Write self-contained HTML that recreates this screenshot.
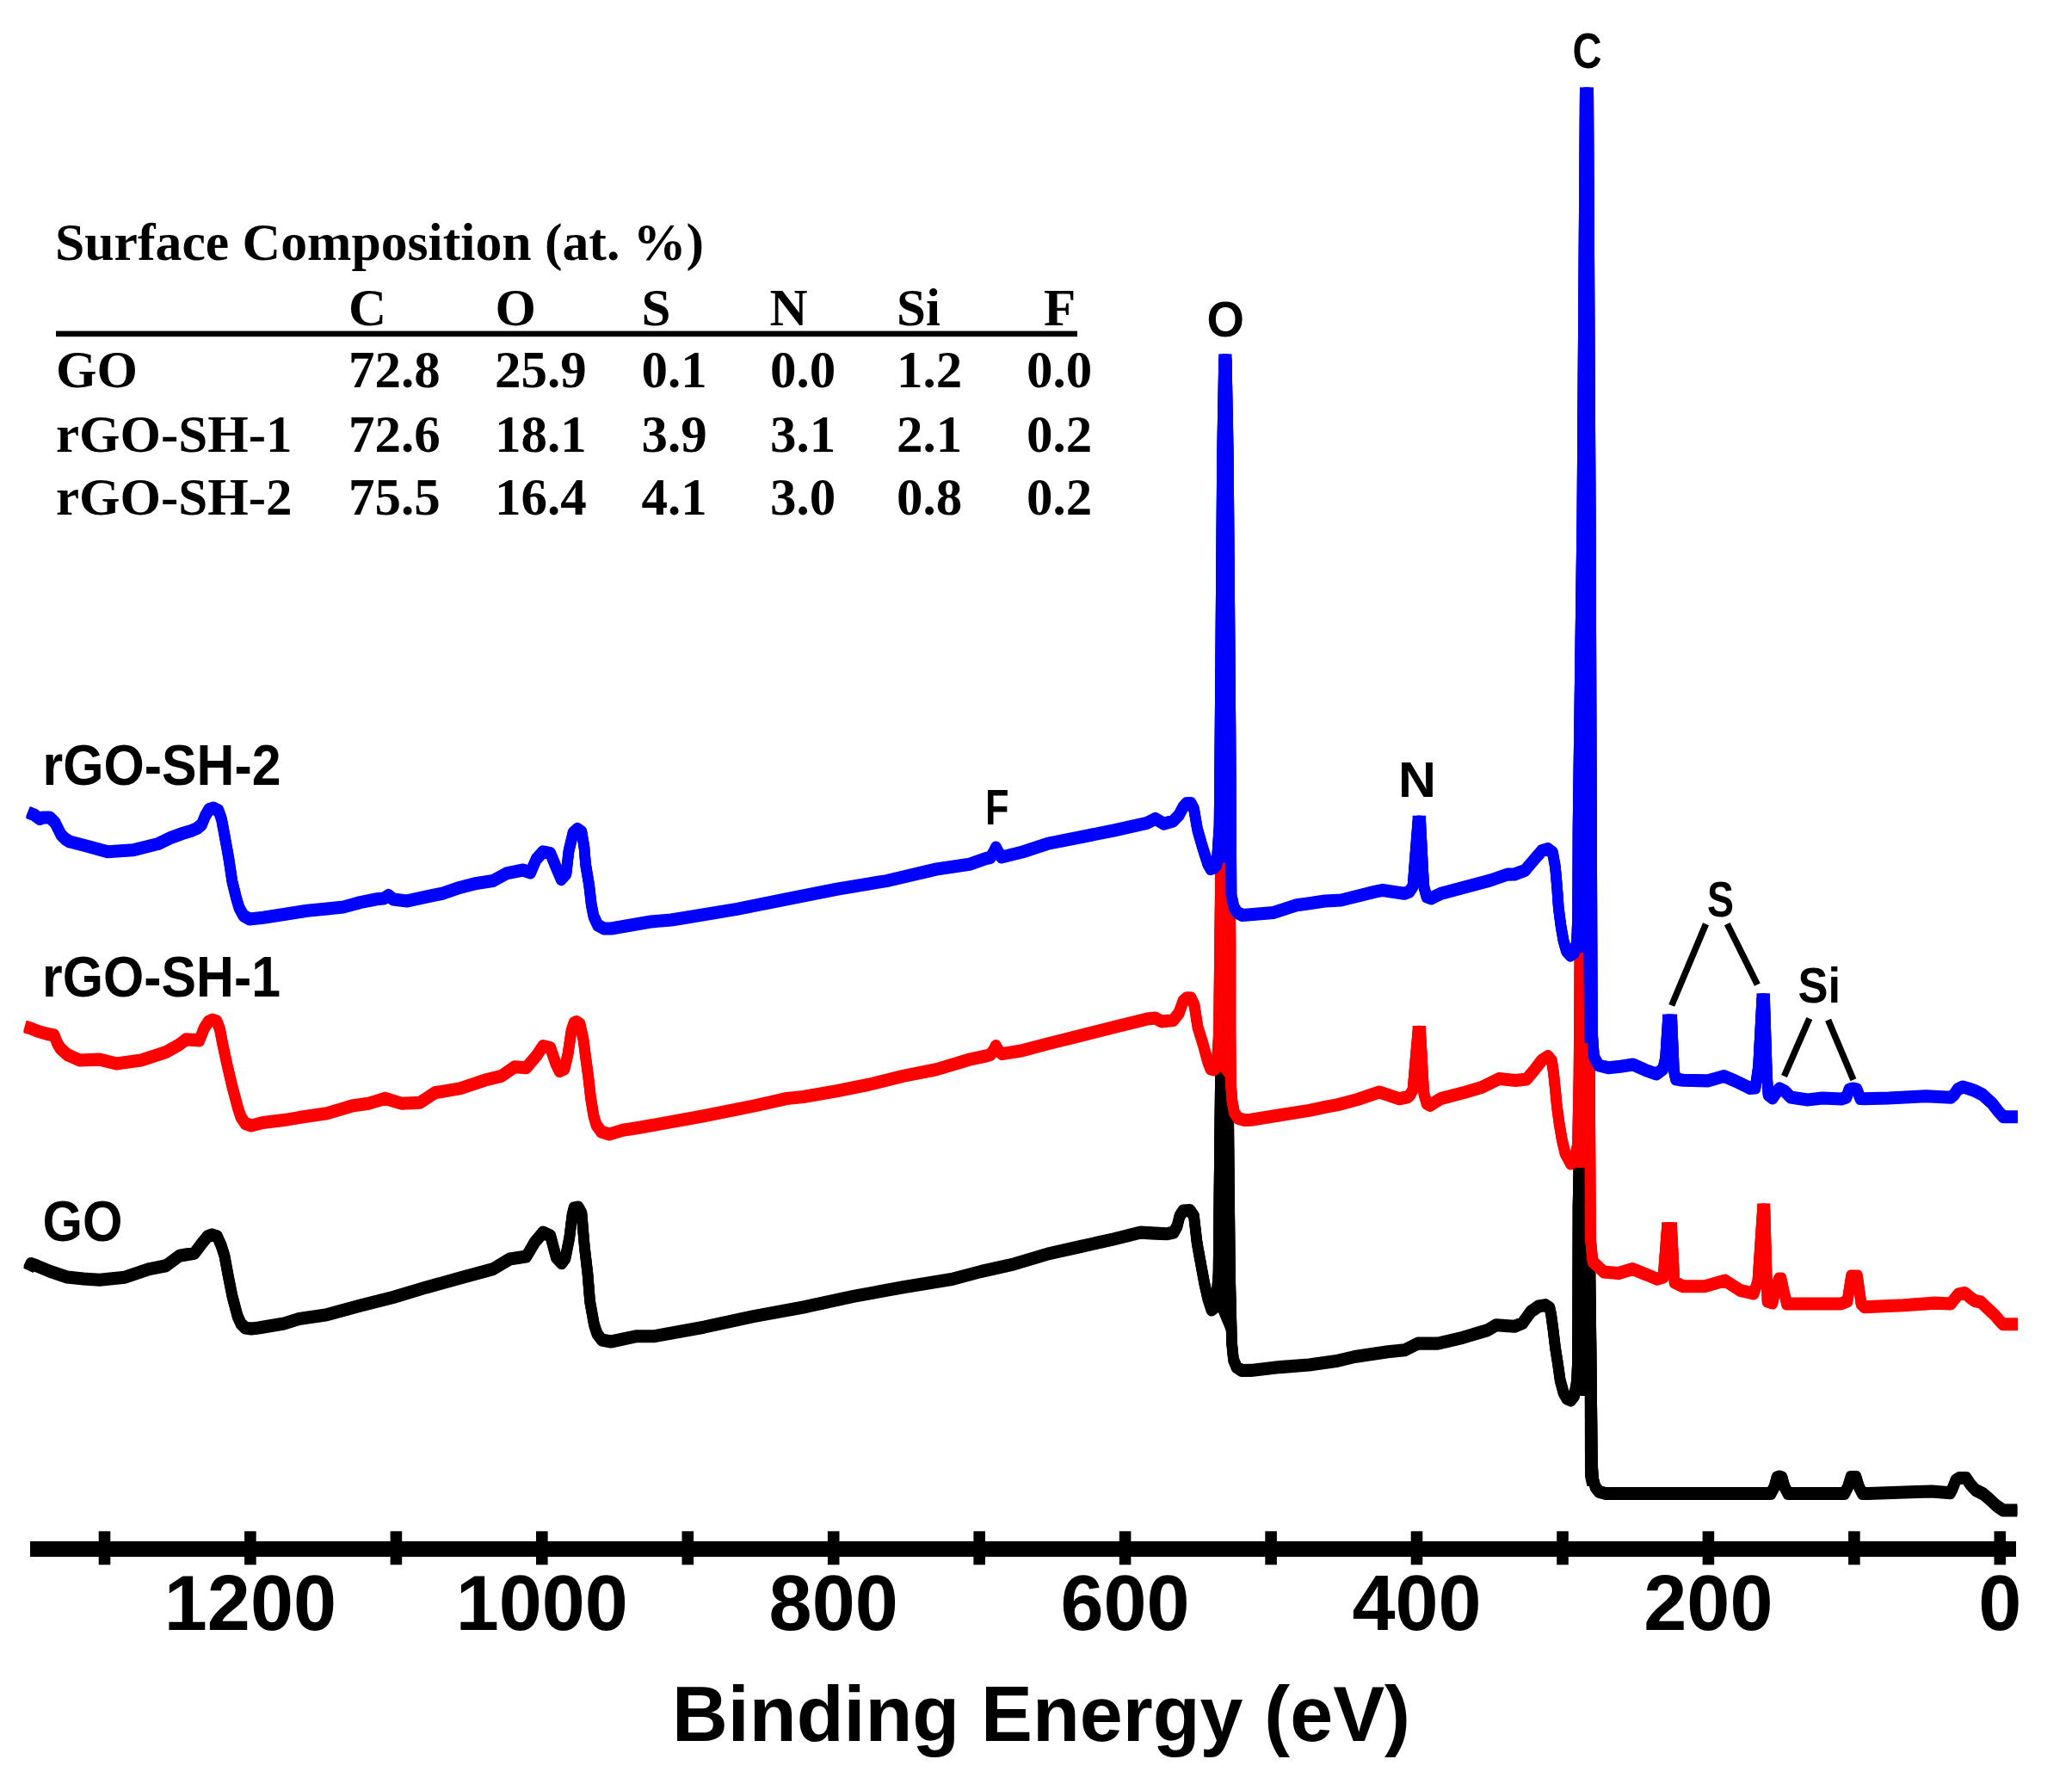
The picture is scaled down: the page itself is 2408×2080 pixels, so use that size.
<!DOCTYPE html>
<html><head><meta charset="utf-8"><title>XPS survey spectra</title>
<style>html,body{margin:0;padding:0;background:#fff;}body{width:2408px;height:2080px;overflow:hidden;}svg{display:block;}.serif{font-family:"Liberation Serif","Times New Roman",serif;font-weight:bold;}.sans{font-family:"Liberation Sans",Arial,sans-serif;font-weight:bold;}</style></head><body>
<svg width="2408" height="2080" viewBox="0 0 2408 2080">
<rect x="0" y="0" width="2408" height="2080" fill="#fff"/>
<g class="serif" font-size="61" fill="#000">
<text x="64" y="302" textLength="754" lengthAdjust="spacingAndGlyphs">Surface Composition (at. %)</text>
<text x="405.0" y="377.5">C</text>
<text x="575.5" y="377.5">O</text>
<text x="745.5" y="377.5">S</text>
<text x="894.5" y="377.5">N</text>
<text x="1042.0" y="377.5">Si</text>
<text x="1213.0" y="377.5">F</text>
<rect x="65" y="384.6" width="1187" height="6.6" fill="#000"/>
<text x="65" y="450.0">GO</text>
<text x="405.0" y="450.0">72.8</text>
<text x="575.0" y="450.0">25.9</text>
<text x="745.5" y="450.0">0.1</text>
<text x="895.0" y="450.0">0.0</text>
<text x="1042.0" y="450.0">1.2</text>
<text x="1193.0" y="450.0">0.0</text>
<text x="65" y="525.0">rGO-SH-1</text>
<text x="405.0" y="525.0">72.6</text>
<text x="575.0" y="525.0">18.1</text>
<text x="745.5" y="525.0">3.9</text>
<text x="895.0" y="525.0">3.1</text>
<text x="1042.0" y="525.0">2.1</text>
<text x="1193.0" y="525.0">0.2</text>
<text x="65" y="597.5">rGO-SH-2</text>
<text x="405.0" y="597.5">75.5</text>
<text x="575.0" y="597.5">16.4</text>
<text x="745.5" y="597.5">4.1</text>
<text x="895.0" y="597.5">3.0</text>
<text x="1042.0" y="597.5">0.8</text>
<text x="1193.0" y="597.5">0.2</text>
</g>
<g fill="none" stroke-width="12.5" stroke-linejoin="round" stroke-linecap="butt">
<g stroke="#000"><path d="M33.0 1475.0L36.0 1468.5L43.0 1471.0L58.6 1477.5L77.9 1484.0L97.0 1486.0L115.8 1487.3L144.8 1484.2L173.7 1474.6L193.0 1470.7L208.5 1459.2L225.9 1456.3L235.5 1443.7L241.0 1437.0L246.4 1434.9L252.5 1437.0L257.0 1447.0L260.9 1459.1L265.2 1482.5L269.9 1506.0L276.1 1529.5L280.0 1538.0L285.0 1543.0L292.0 1544.0L300.4 1543.0L330.0 1538.0L347.5 1532.5L380.0 1527.7L418.6 1517.1L457.2 1507.4L495.8 1495.8L534.4 1485.2L573.0 1474.6L592.4 1463.0L611.7 1460.1L621.3 1443.7L631.0 1432.1L639.7 1436.0L646.4 1461.0L652.7 1467.8L657.0 1462.0L661.8 1438.0L665.0 1412.0L667.0 1404.0L672.0 1403.0L676.0 1410.0L679.3 1448.7L683.0 1480.5L685.6 1512.4L690.4 1538.9L694.0 1550.0L699.4 1557.0L710.0 1559.0L740.0 1552.7L760.0 1552.8L817.9 1542.2L875.8 1529.6L933.7 1519.0L991.7 1506.4L1049.6 1495.8L1107.5 1486.2L1140.0 1477.5L1178.6 1468.8L1217.2 1457.2L1255.8 1448.5L1294.4 1439.8L1325.3 1432.1L1342.7 1433.1L1355.6 1433.8L1364.0 1432.0L1368.0 1425.0L1371.0 1413.0L1375.0 1407.0L1383.0 1406.5L1387.5 1413.0L1391.2 1444.7L1395.5 1468.2L1399.8 1491.6L1404.0 1510.0L1408.0 1522.0L1413.0 1518.0L1416.0 1480.0L1417.5 1330.0L1419.0 1200.0L1421.0 1000.0L1425.0 1000.0L1427.0 1200.0L1428.0 1330.0L1429.5 1480.0L1431.5 1560.0L1433.5 1580.0L1437.0 1588.5L1443.0 1592.5L1453.8 1592.4L1487.6 1588.6L1521.4 1586.0L1555.0 1581.2L1574.4 1576.5L1613.0 1570.7L1632.4 1568.8L1647.8 1561.1L1671.0 1561.1L1700.0 1554.3L1728.9 1545.6L1738.5 1539.8L1760.0 1541.3L1769.5 1537.5L1779.0 1524.2L1788.0 1518.0L1796.1 1516.6L1801.0 1520.0L1802.7 1528.0L1805.0 1545.0L1807.5 1566.0L1810.5 1585.0L1813.2 1604.0L1817.0 1618.0L1821.0 1625.0L1825.5 1627.0L1829.5 1622.0L1832.5 1605.0L1833.5 1580.0L1834.0 1400.0L1836.0 1300.0L1838.0 1200.0L1844.0 1200.0L1847.0 1400.0L1849.0 1560.0L1850.5 1700.0L1851.5 1718.0L1854.0 1728.0L1858.5 1733.5L1866.0 1735.5L1881.3 1735.5L1924.8 1735.5L1982.7 1735.5L2058.0 1735.5L2062.0 1728.0L2065.0 1717.0L2068.0 1716.0L2071.0 1717.0L2074.0 1728.0L2078.0 1735.5L2138.5 1735.5L2143.5 1735.5L2147.5 1728.0L2151.0 1716.5L2157.0 1716.5L2160.5 1728.0L2164.5 1735.5L2171.3 1735.5L2220.5 1733.8L2245.1 1733.0L2266.5 1734.7L2269.0 1730.0L2273.0 1720.0L2277.0 1717.5L2285.0 1717.5L2290.0 1725.0L2296.0 1731.5L2305.0 1736.0L2312.0 1742.0L2320.0 1749.5L2328.0 1755.0L2344.3 1755.0"/><path transform="translate(0,1.30)" d="M33.0 1475.0L36.0 1468.5L43.0 1471.0L58.6 1477.5L77.9 1484.0L97.0 1486.0L115.8 1487.3L144.8 1484.2L173.7 1474.6L193.0 1470.7L208.5 1459.2L225.9 1456.3L235.5 1443.7L241.0 1437.0L246.4 1434.9L252.5 1437.0L257.0 1447.0L260.9 1459.1L265.2 1482.5L269.9 1506.0L276.1 1529.5L280.0 1538.0L285.0 1543.0L292.0 1544.0L300.4 1543.0L330.0 1538.0L347.5 1532.5L380.0 1527.7L418.6 1517.1L457.2 1507.4L495.8 1495.8L534.4 1485.2L573.0 1474.6L592.4 1463.0L611.7 1460.1L621.3 1443.7L631.0 1432.1L639.7 1436.0L646.4 1461.0L652.7 1467.8L657.0 1462.0L661.8 1438.0L665.0 1412.0L667.0 1404.0L672.0 1403.0L676.0 1410.0L679.3 1448.7L683.0 1480.5L685.6 1512.4L690.4 1538.9L694.0 1550.0L699.4 1557.0L710.0 1559.0L740.0 1552.7L760.0 1552.8L817.9 1542.2L875.8 1529.6L933.7 1519.0L991.7 1506.4L1049.6 1495.8L1107.5 1486.2L1140.0 1477.5L1178.6 1468.8L1217.2 1457.2L1255.8 1448.5L1294.4 1439.8L1325.3 1432.1L1342.7 1433.1L1355.6 1433.8L1364.0 1432.0L1368.0 1425.0L1371.0 1413.0L1375.0 1407.0L1383.0 1406.5L1387.5 1413.0L1391.2 1444.7L1395.5 1468.2L1399.8 1491.6L1404.0 1510.0L1408.0 1522.0L1413.0 1518.0L1416.0 1480.0L1417.5 1330.0L1419.0 1200.0L1421.0 1000.0L1425.0 1000.0L1427.0 1200.0L1428.0 1330.0L1429.5 1480.0L1431.5 1560.0L1433.5 1580.0L1437.0 1588.5L1443.0 1592.5L1453.8 1592.4L1487.6 1588.6L1521.4 1586.0L1555.0 1581.2L1574.4 1576.5L1613.0 1570.7L1632.4 1568.8L1647.8 1561.1L1671.0 1561.1L1700.0 1554.3L1728.9 1545.6L1738.5 1539.8L1760.0 1541.3L1769.5 1537.5L1779.0 1524.2L1788.0 1518.0L1796.1 1516.6L1801.0 1520.0L1802.7 1528.0L1805.0 1545.0L1807.5 1566.0L1810.5 1585.0L1813.2 1604.0L1817.0 1618.0L1821.0 1625.0L1825.5 1627.0L1829.5 1622.0L1832.5 1605.0L1833.5 1580.0L1834.0 1400.0L1836.0 1300.0L1838.0 1200.0L1844.0 1200.0L1847.0 1400.0L1849.0 1560.0L1850.5 1700.0L1851.5 1718.0L1854.0 1728.0L1858.5 1733.5L1866.0 1735.5L1881.3 1735.5L1924.8 1735.5L1982.7 1735.5L2058.0 1735.5L2062.0 1728.0L2065.0 1717.0L2068.0 1716.0L2071.0 1717.0L2074.0 1728.0L2078.0 1735.5L2138.5 1735.5L2143.5 1735.5L2147.5 1728.0L2151.0 1716.5L2157.0 1716.5L2160.5 1728.0L2164.5 1735.5L2171.3 1735.5L2220.5 1733.8L2245.1 1733.0L2266.5 1734.7L2269.0 1730.0L2273.0 1720.0L2277.0 1717.5L2285.0 1717.5L2290.0 1725.0L2296.0 1731.5L2305.0 1736.0L2312.0 1742.0L2320.0 1749.5L2328.0 1755.0L2344.3 1755.0"/><path transform="translate(0,-1.30)" d="M33.0 1475.0L36.0 1468.5L43.0 1471.0L58.6 1477.5L77.9 1484.0L97.0 1486.0L115.8 1487.3L144.8 1484.2L173.7 1474.6L193.0 1470.7L208.5 1459.2L225.9 1456.3L235.5 1443.7L241.0 1437.0L246.4 1434.9L252.5 1437.0L257.0 1447.0L260.9 1459.1L265.2 1482.5L269.9 1506.0L276.1 1529.5L280.0 1538.0L285.0 1543.0L292.0 1544.0L300.4 1543.0L330.0 1538.0L347.5 1532.5L380.0 1527.7L418.6 1517.1L457.2 1507.4L495.8 1495.8L534.4 1485.2L573.0 1474.6L592.4 1463.0L611.7 1460.1L621.3 1443.7L631.0 1432.1L639.7 1436.0L646.4 1461.0L652.7 1467.8L657.0 1462.0L661.8 1438.0L665.0 1412.0L667.0 1404.0L672.0 1403.0L676.0 1410.0L679.3 1448.7L683.0 1480.5L685.6 1512.4L690.4 1538.9L694.0 1550.0L699.4 1557.0L710.0 1559.0L740.0 1552.7L760.0 1552.8L817.9 1542.2L875.8 1529.6L933.7 1519.0L991.7 1506.4L1049.6 1495.8L1107.5 1486.2L1140.0 1477.5L1178.6 1468.8L1217.2 1457.2L1255.8 1448.5L1294.4 1439.8L1325.3 1432.1L1342.7 1433.1L1355.6 1433.8L1364.0 1432.0L1368.0 1425.0L1371.0 1413.0L1375.0 1407.0L1383.0 1406.5L1387.5 1413.0L1391.2 1444.7L1395.5 1468.2L1399.8 1491.6L1404.0 1510.0L1408.0 1522.0L1413.0 1518.0L1416.0 1480.0L1417.5 1330.0L1419.0 1200.0L1421.0 1000.0L1425.0 1000.0L1427.0 1200.0L1428.0 1330.0L1429.5 1480.0L1431.5 1560.0L1433.5 1580.0L1437.0 1588.5L1443.0 1592.5L1453.8 1592.4L1487.6 1588.6L1521.4 1586.0L1555.0 1581.2L1574.4 1576.5L1613.0 1570.7L1632.4 1568.8L1647.8 1561.1L1671.0 1561.1L1700.0 1554.3L1728.9 1545.6L1738.5 1539.8L1760.0 1541.3L1769.5 1537.5L1779.0 1524.2L1788.0 1518.0L1796.1 1516.6L1801.0 1520.0L1802.7 1528.0L1805.0 1545.0L1807.5 1566.0L1810.5 1585.0L1813.2 1604.0L1817.0 1618.0L1821.0 1625.0L1825.5 1627.0L1829.5 1622.0L1832.5 1605.0L1833.5 1580.0L1834.0 1400.0L1836.0 1300.0L1838.0 1200.0L1844.0 1200.0L1847.0 1400.0L1849.0 1560.0L1850.5 1700.0L1851.5 1718.0L1854.0 1728.0L1858.5 1733.5L1866.0 1735.5L1881.3 1735.5L1924.8 1735.5L1982.7 1735.5L2058.0 1735.5L2062.0 1728.0L2065.0 1717.0L2068.0 1716.0L2071.0 1717.0L2074.0 1728.0L2078.0 1735.5L2138.5 1735.5L2143.5 1735.5L2147.5 1728.0L2151.0 1716.5L2157.0 1716.5L2160.5 1728.0L2164.5 1735.5L2171.3 1735.5L2220.5 1733.8L2245.1 1733.0L2266.5 1734.7L2269.0 1730.0L2273.0 1720.0L2277.0 1717.5L2285.0 1717.5L2290.0 1725.0L2296.0 1731.5L2305.0 1736.0L2312.0 1742.0L2320.0 1749.5L2328.0 1755.0L2344.3 1755.0"/></g>
<path stroke="none" fill="#000" d="M1413.0 1518.0L1416.0 1480.0L1417.5 1330.0L1419.0 1200.0L1421.0 1000.0L1425.0 1000.0L1427.0 1200.0L1428.0 1330.0L1429.0 1480.0L1430.5 1560.0Z"/>
<path stroke="none" fill="#000" d="M1829.5 1622.0L1832.5 1605.0L1833.5 1580.0L1834.0 1400.0L1836.0 1300.0L1838.0 1200.0L1844.0 1200.0L1847.0 1400.0L1848.0 1622.0Z"/>
<path stroke="none" fill="#000" d="M1841.5 1560.0L1842.0 1716.0L1844.5 1727.0L1850.0 1727.0L1849.0 1560.0Z"/>
<g stroke="#f00"><path d="M29.0 1193.0L36.0 1195.0L43.0 1198.0L55.0 1201.5L63.0 1203.0L66.5 1212.0L70.0 1218.0L78.0 1225.4L92.7 1232.0L115.8 1231.1L135.1 1235.9L164.1 1232.0L193.0 1222.4L208.5 1213.7L216.2 1207.9L231.7 1208.9L237.5 1194.4L242.0 1187.5L246.8 1185.1L252.0 1187.0L255.5 1196.0L258.5 1211.9L263.9 1237.0L269.8 1262.2L276.5 1287.4L280.0 1298.0L285.0 1305.5L292.0 1308.0L305.4 1304.5L330.0 1301.6L347.5 1298.6L380.0 1293.8L409.0 1285.1L428.3 1282.2L447.6 1276.4L466.9 1282.2L488.1 1281.3L505.5 1269.7L534.4 1264.9L563.4 1255.2L582.7 1250.4L598.1 1239.8L611.7 1240.7L623.2 1227.2L631.0 1215.6L639.7 1217.6L646.0 1236.0L650.3 1244.6L656.0 1242.0L660.0 1225.0L664.0 1198.0L667.0 1189.0L670.0 1187.5L674.0 1190.0L678.0 1208.0L680.2 1225.3L683.6 1250.4L686.5 1275.6L689.9 1296.5L693.0 1307.0L698.7 1315.0L708.0 1318.0L723.8 1313.3L740.0 1310.8L760.0 1307.3L817.9 1296.7L875.8 1285.1L914.4 1276.5L933.7 1274.5L972.4 1267.8L1011.0 1260.0L1049.6 1250.4L1088.2 1242.7L1126.8 1231.1L1146.0 1227.0L1151.0 1225.5L1154.5 1221.0L1157.4 1215.5L1160.5 1221.0L1164.5 1224.6L1188.3 1220.7L1217.2 1213.0L1255.8 1203.4L1294.4 1193.7L1333.0 1184.1L1342.7 1183.1L1350.0 1187.0L1363.5 1185.6L1370.2 1177.0L1375.0 1163.5L1379.0 1159.8L1384.0 1159.8L1388.0 1168.0L1392.0 1193.7L1398.3 1213.8L1403.7 1233.9L1407.0 1242.0L1410.5 1243.0L1414.0 1240.0L1416.5 1200.0L1417.5 1100.0L1420.0 900.0L1423.0 700.0L1427.0 700.0L1429.0 900.0L1430.0 1100.0L1430.0 1200.0L1430.5 1260.0L1432.0 1280.0L1434.5 1293.0L1439.0 1299.5L1446.0 1301.5L1453.8 1301.2L1487.6 1295.8L1521.4 1290.4L1540.0 1286.4L1555.0 1283.6L1577.9 1277.5L1603.0 1269.0L1626.2 1276.7L1635.8 1274.8L1639.0 1272.0L1642.0 1266.0L1647.8 1199.2L1650.8 1199.2L1654.7 1270.0L1658.0 1282.0L1662.0 1284.4L1674.4 1276.7L1703.4 1269.0L1722.7 1263.2L1742.0 1253.6L1761.3 1255.5L1774.2 1254.0L1783.7 1242.7L1792.0 1232.0L1799.0 1227.5L1803.5 1233.0L1805.6 1247.5L1807.5 1266.0L1809.4 1285.5L1812.0 1305.0L1815.1 1323.5L1819.0 1340.0L1825.5 1352.0L1830.0 1348.0L1833.5 1330.0L1835.0 1250.0L1836.0 1100.0L1839.0 700.0L1844.0 700.0L1846.0 1000.0L1847.5 1250.0L1848.5 1440.0L1851.0 1466.0L1863.8 1478.0L1880.6 1479.6L1897.3 1474.6L1914.1 1481.3L1925.8 1486.3L1933.0 1484.0L1937.3 1427.5L1942.8 1427.5L1946.0 1490.0L1956.0 1494.7L1981.1 1494.7L2004.6 1488.0L2023.0 1499.7L2038.1 1503.0L2042.8 1489.5L2048.4 1405.7L2051.0 1405.7L2054.0 1512.0L2060.0 1514.0L2064.0 1495.0L2067.5 1486.0L2070.0 1486.0L2073.0 1500.0L2076.5 1515.0L2103.0 1515.0L2139.5 1515.0L2147.0 1512.0L2151.5 1483.0L2158.5 1483.0L2163.0 1515.0L2166.8 1518.7L2212.4 1516.8L2248.9 1514.1L2267.2 1515.0L2271.0 1510.0L2276.0 1504.0L2283.6 1502.5L2290.0 1508.0L2295.0 1511.5L2302.0 1513.0L2310.0 1520.5L2318.0 1528.0L2324.0 1535.0L2328.0 1538.8L2344.8 1538.8"/><path transform="translate(0,1.30)" d="M29.0 1193.0L36.0 1195.0L43.0 1198.0L55.0 1201.5L63.0 1203.0L66.5 1212.0L70.0 1218.0L78.0 1225.4L92.7 1232.0L115.8 1231.1L135.1 1235.9L164.1 1232.0L193.0 1222.4L208.5 1213.7L216.2 1207.9L231.7 1208.9L237.5 1194.4L242.0 1187.5L246.8 1185.1L252.0 1187.0L255.5 1196.0L258.5 1211.9L263.9 1237.0L269.8 1262.2L276.5 1287.4L280.0 1298.0L285.0 1305.5L292.0 1308.0L305.4 1304.5L330.0 1301.6L347.5 1298.6L380.0 1293.8L409.0 1285.1L428.3 1282.2L447.6 1276.4L466.9 1282.2L488.1 1281.3L505.5 1269.7L534.4 1264.9L563.4 1255.2L582.7 1250.4L598.1 1239.8L611.7 1240.7L623.2 1227.2L631.0 1215.6L639.7 1217.6L646.0 1236.0L650.3 1244.6L656.0 1242.0L660.0 1225.0L664.0 1198.0L667.0 1189.0L670.0 1187.5L674.0 1190.0L678.0 1208.0L680.2 1225.3L683.6 1250.4L686.5 1275.6L689.9 1296.5L693.0 1307.0L698.7 1315.0L708.0 1318.0L723.8 1313.3L740.0 1310.8L760.0 1307.3L817.9 1296.7L875.8 1285.1L914.4 1276.5L933.7 1274.5L972.4 1267.8L1011.0 1260.0L1049.6 1250.4L1088.2 1242.7L1126.8 1231.1L1146.0 1227.0L1151.0 1225.5L1154.5 1221.0L1157.4 1215.5L1160.5 1221.0L1164.5 1224.6L1188.3 1220.7L1217.2 1213.0L1255.8 1203.4L1294.4 1193.7L1333.0 1184.1L1342.7 1183.1L1350.0 1187.0L1363.5 1185.6L1370.2 1177.0L1375.0 1163.5L1379.0 1159.8L1384.0 1159.8L1388.0 1168.0L1392.0 1193.7L1398.3 1213.8L1403.7 1233.9L1407.0 1242.0L1410.5 1243.0L1414.0 1240.0L1416.5 1200.0L1417.5 1100.0L1420.0 900.0L1423.0 700.0L1427.0 700.0L1429.0 900.0L1430.0 1100.0L1430.0 1200.0L1430.5 1260.0L1432.0 1280.0L1434.5 1293.0L1439.0 1299.5L1446.0 1301.5L1453.8 1301.2L1487.6 1295.8L1521.4 1290.4L1540.0 1286.4L1555.0 1283.6L1577.9 1277.5L1603.0 1269.0L1626.2 1276.7L1635.8 1274.8L1639.0 1272.0L1642.0 1266.0L1647.8 1199.2L1650.8 1199.2L1654.7 1270.0L1658.0 1282.0L1662.0 1284.4L1674.4 1276.7L1703.4 1269.0L1722.7 1263.2L1742.0 1253.6L1761.3 1255.5L1774.2 1254.0L1783.7 1242.7L1792.0 1232.0L1799.0 1227.5L1803.5 1233.0L1805.6 1247.5L1807.5 1266.0L1809.4 1285.5L1812.0 1305.0L1815.1 1323.5L1819.0 1340.0L1825.5 1352.0L1830.0 1348.0L1833.5 1330.0L1835.0 1250.0L1836.0 1100.0L1839.0 700.0L1844.0 700.0L1846.0 1000.0L1847.5 1250.0L1848.5 1440.0L1851.0 1466.0L1863.8 1478.0L1880.6 1479.6L1897.3 1474.6L1914.1 1481.3L1925.8 1486.3L1933.0 1484.0L1937.3 1427.5L1942.8 1427.5L1946.0 1490.0L1956.0 1494.7L1981.1 1494.7L2004.6 1488.0L2023.0 1499.7L2038.1 1503.0L2042.8 1489.5L2048.4 1405.7L2051.0 1405.7L2054.0 1512.0L2060.0 1514.0L2064.0 1495.0L2067.5 1486.0L2070.0 1486.0L2073.0 1500.0L2076.5 1515.0L2103.0 1515.0L2139.5 1515.0L2147.0 1512.0L2151.5 1483.0L2158.5 1483.0L2163.0 1515.0L2166.8 1518.7L2212.4 1516.8L2248.9 1514.1L2267.2 1515.0L2271.0 1510.0L2276.0 1504.0L2283.6 1502.5L2290.0 1508.0L2295.0 1511.5L2302.0 1513.0L2310.0 1520.5L2318.0 1528.0L2324.0 1535.0L2328.0 1538.8L2344.8 1538.8"/><path transform="translate(0,-1.30)" d="M29.0 1193.0L36.0 1195.0L43.0 1198.0L55.0 1201.5L63.0 1203.0L66.5 1212.0L70.0 1218.0L78.0 1225.4L92.7 1232.0L115.8 1231.1L135.1 1235.9L164.1 1232.0L193.0 1222.4L208.5 1213.7L216.2 1207.9L231.7 1208.9L237.5 1194.4L242.0 1187.5L246.8 1185.1L252.0 1187.0L255.5 1196.0L258.5 1211.9L263.9 1237.0L269.8 1262.2L276.5 1287.4L280.0 1298.0L285.0 1305.5L292.0 1308.0L305.4 1304.5L330.0 1301.6L347.5 1298.6L380.0 1293.8L409.0 1285.1L428.3 1282.2L447.6 1276.4L466.9 1282.2L488.1 1281.3L505.5 1269.7L534.4 1264.9L563.4 1255.2L582.7 1250.4L598.1 1239.8L611.7 1240.7L623.2 1227.2L631.0 1215.6L639.7 1217.6L646.0 1236.0L650.3 1244.6L656.0 1242.0L660.0 1225.0L664.0 1198.0L667.0 1189.0L670.0 1187.5L674.0 1190.0L678.0 1208.0L680.2 1225.3L683.6 1250.4L686.5 1275.6L689.9 1296.5L693.0 1307.0L698.7 1315.0L708.0 1318.0L723.8 1313.3L740.0 1310.8L760.0 1307.3L817.9 1296.7L875.8 1285.1L914.4 1276.5L933.7 1274.5L972.4 1267.8L1011.0 1260.0L1049.6 1250.4L1088.2 1242.7L1126.8 1231.1L1146.0 1227.0L1151.0 1225.5L1154.5 1221.0L1157.4 1215.5L1160.5 1221.0L1164.5 1224.6L1188.3 1220.7L1217.2 1213.0L1255.8 1203.4L1294.4 1193.7L1333.0 1184.1L1342.7 1183.1L1350.0 1187.0L1363.5 1185.6L1370.2 1177.0L1375.0 1163.5L1379.0 1159.8L1384.0 1159.8L1388.0 1168.0L1392.0 1193.7L1398.3 1213.8L1403.7 1233.9L1407.0 1242.0L1410.5 1243.0L1414.0 1240.0L1416.5 1200.0L1417.5 1100.0L1420.0 900.0L1423.0 700.0L1427.0 700.0L1429.0 900.0L1430.0 1100.0L1430.0 1200.0L1430.5 1260.0L1432.0 1280.0L1434.5 1293.0L1439.0 1299.5L1446.0 1301.5L1453.8 1301.2L1487.6 1295.8L1521.4 1290.4L1540.0 1286.4L1555.0 1283.6L1577.9 1277.5L1603.0 1269.0L1626.2 1276.7L1635.8 1274.8L1639.0 1272.0L1642.0 1266.0L1647.8 1199.2L1650.8 1199.2L1654.7 1270.0L1658.0 1282.0L1662.0 1284.4L1674.4 1276.7L1703.4 1269.0L1722.7 1263.2L1742.0 1253.6L1761.3 1255.5L1774.2 1254.0L1783.7 1242.7L1792.0 1232.0L1799.0 1227.5L1803.5 1233.0L1805.6 1247.5L1807.5 1266.0L1809.4 1285.5L1812.0 1305.0L1815.1 1323.5L1819.0 1340.0L1825.5 1352.0L1830.0 1348.0L1833.5 1330.0L1835.0 1250.0L1836.0 1100.0L1839.0 700.0L1844.0 700.0L1846.0 1000.0L1847.5 1250.0L1848.5 1440.0L1851.0 1466.0L1863.8 1478.0L1880.6 1479.6L1897.3 1474.6L1914.1 1481.3L1925.8 1486.3L1933.0 1484.0L1937.3 1427.5L1942.8 1427.5L1946.0 1490.0L1956.0 1494.7L1981.1 1494.7L2004.6 1488.0L2023.0 1499.7L2038.1 1503.0L2042.8 1489.5L2048.4 1405.7L2051.0 1405.7L2054.0 1512.0L2060.0 1514.0L2064.0 1495.0L2067.5 1486.0L2070.0 1486.0L2073.0 1500.0L2076.5 1515.0L2103.0 1515.0L2139.5 1515.0L2147.0 1512.0L2151.5 1483.0L2158.5 1483.0L2163.0 1515.0L2166.8 1518.7L2212.4 1516.8L2248.9 1514.1L2267.2 1515.0L2271.0 1510.0L2276.0 1504.0L2283.6 1502.5L2290.0 1508.0L2295.0 1511.5L2302.0 1513.0L2310.0 1520.5L2318.0 1528.0L2324.0 1535.0L2328.0 1538.8L2344.8 1538.8"/></g>
<path stroke="none" fill="#f00" d="M1414.0 1240.0L1416.5 1200.0L1417.5 1100.0L1420.0 900.0L1423.0 700.0L1427.0 700.0L1429.0 900.0L1430.0 1100.0L1430.0 1200.0L1430.5 1260.0Z"/>
<path stroke="none" fill="#f00" d="M1827.0 1357.0L1830.0 1348.0L1833.5 1330.0L1835.0 1250.0L1836.0 1100.0L1839.0 700.0L1844.0 700.0L1846.0 1000.0L1847.5 1250.0L1848.0 1357.0Z"/>
<path stroke="none" fill="#f00" d="M1642.0 1266.0L1647.8 1199.2L1650.8 1199.2L1654.7 1270.0Z"/>
<rect stroke="none" fill="#f00" x="1641.60" y="1191.95" width="15.50" height="10.55"/>
<rect stroke="none" fill="#f00" x="1931.05" y="1420.25" width="18.00" height="10.55"/>
<rect stroke="none" fill="#f00" x="2042.15" y="1398.45" width="15.10" height="10.55"/>
<g stroke="#00f"><path d="M32.5 944.0L40.0 947.0L46.0 951.5L50.0 950.0L58.0 950.0L64.0 956.0L68.0 964.0L71.0 970.0L76.0 975.0L81.0 978.0L100.4 983.0L125.5 989.8L154.4 987.8L183.8 980.5L198.3 973.5L212.7 968.3L222.0 965.5L229.0 962.5L234.5 958.0L238.5 948.0L243.0 940.5L248.0 939.0L254.0 942.0L257.5 952.0L260.4 967.5L265.6 996.0L269.9 1024.5L274.6 1043.5L278.0 1055.0L283.0 1064.0L290.0 1068.0L306.0 1066.2L330.0 1062.5L357.0 1058.3L380.0 1056.0L399.0 1054.0L418.6 1048.6L437.9 1044.8L446.0 1044.0L451.4 1040.5L457.0 1045.0L472.7 1047.0L495.8 1042.0L515.0 1038.0L534.4 1031.3L553.7 1026.4L573.0 1023.6L588.5 1014.9L607.8 1011.0L616.5 1013.9L623.2 998.5L631.0 989.8L639.7 991.7L646.4 1008.0L652.2 1021.6L658.0 1015.0L661.0 989.0L666.0 968.0L671.0 963.5L676.0 967.0L679.0 985.0L680.6 1004.7L684.6 1028.2L687.3 1051.6L690.0 1065.0L694.7 1075.0L702.0 1079.0L710.4 1079.0L727.5 1076.0L756.4 1071.0L780.0 1069.0L798.6 1066.0L856.5 1056.4L914.4 1044.8L972.4 1033.2L1030.3 1023.6L1088.2 1010.0L1126.8 1004.2L1146.0 997.5L1151.0 996.5L1154.5 991.0L1157.4 985.0L1160.5 991.0L1164.0 996.0L1188.3 990.0L1217.2 980.4L1255.8 972.7L1294.4 965.0L1333.0 956.3L1342.7 951.4L1352.4 957.2L1363.5 954.0L1370.2 947.0L1375.0 938.0L1379.0 933.5L1384.0 933.5L1387.5 940.0L1391.6 963.7L1397.3 983.8L1403.7 1003.9L1407.0 1009.5L1410.5 1008.5L1414.0 1005.0L1417.0 960.0L1418.0 850.0L1420.5 530.0L1422.5 418.6L1425.3 418.6L1427.4 530.0L1430.0 850.0L1431.0 1040.0L1434.0 1054.0L1438.0 1060.5L1444.0 1063.5L1468.2 1061.5L1480.0 1060.4L1506.8 1051.8L1520.0 1050.0L1540.0 1047.0L1558.6 1046.0L1597.2 1036.4L1606.9 1034.4L1632.0 1038.3L1638.0 1036.0L1642.0 1030.0L1647.8 955.0L1650.8 955.0L1654.7 1030.0L1658.0 1042.0L1663.0 1044.0L1674.4 1038.3L1703.4 1030.6L1732.4 1022.9L1751.7 1016.1L1760.0 1016.0L1772.3 1011.3L1783.7 998.0L1792.0 988.5L1799.0 986.6L1804.5 991.0L1807.5 1007.5L1809.5 1030.0L1811.3 1055.0L1814.0 1076.0L1817.0 1093.0L1820.5 1105.0L1825.0 1110.0L1829.5 1107.0L1832.5 1095.0L1833.6 1064.0L1834.0 960.0L1838.8 600.0L1842.2 108.7L1845.8 108.7L1848.3 600.0L1850.0 1080.0L1850.5 1200.0L1852.5 1228.0L1858.0 1238.0L1869.0 1240.7L1883.4 1239.3L1897.9 1237.1L1912.4 1243.6L1925.1 1248.0L1932.7 1242.2L1935.5 1230.0L1938.3 1185.8L1942.9 1185.8L1945.5 1245.0L1947.5 1253.7L1955.8 1255.2L1984.8 1255.9L2003.6 1250.5L2017.3 1256.4L2034.0 1264.5L2040.0 1264.0L2043.5 1240.0L2047.7 1161.5L2050.7 1161.5L2053.5 1250.0L2055.0 1272.0L2060.0 1276.0L2064.0 1270.0L2068.0 1265.0L2074.3 1268.1L2081.0 1275.0L2100.6 1278.0L2117.9 1276.0L2140.0 1277.0L2146.0 1275.0L2149.0 1266.0L2153.0 1265.0L2158.0 1266.0L2162.0 1276.5L2165.9 1276.7L2194.9 1276.0L2238.3 1273.8L2267.3 1275.2L2271.0 1272.0L2275.0 1266.0L2281.0 1263.0L2288.0 1265.0L2295.0 1267.5L2304.0 1272.0L2315.0 1282.0L2322.0 1291.0L2328.0 1297.7L2344.8 1297.7"/><path transform="translate(0,1.30)" d="M32.5 944.0L40.0 947.0L46.0 951.5L50.0 950.0L58.0 950.0L64.0 956.0L68.0 964.0L71.0 970.0L76.0 975.0L81.0 978.0L100.4 983.0L125.5 989.8L154.4 987.8L183.8 980.5L198.3 973.5L212.7 968.3L222.0 965.5L229.0 962.5L234.5 958.0L238.5 948.0L243.0 940.5L248.0 939.0L254.0 942.0L257.5 952.0L260.4 967.5L265.6 996.0L269.9 1024.5L274.6 1043.5L278.0 1055.0L283.0 1064.0L290.0 1068.0L306.0 1066.2L330.0 1062.5L357.0 1058.3L380.0 1056.0L399.0 1054.0L418.6 1048.6L437.9 1044.8L446.0 1044.0L451.4 1040.5L457.0 1045.0L472.7 1047.0L495.8 1042.0L515.0 1038.0L534.4 1031.3L553.7 1026.4L573.0 1023.6L588.5 1014.9L607.8 1011.0L616.5 1013.9L623.2 998.5L631.0 989.8L639.7 991.7L646.4 1008.0L652.2 1021.6L658.0 1015.0L661.0 989.0L666.0 968.0L671.0 963.5L676.0 967.0L679.0 985.0L680.6 1004.7L684.6 1028.2L687.3 1051.6L690.0 1065.0L694.7 1075.0L702.0 1079.0L710.4 1079.0L727.5 1076.0L756.4 1071.0L780.0 1069.0L798.6 1066.0L856.5 1056.4L914.4 1044.8L972.4 1033.2L1030.3 1023.6L1088.2 1010.0L1126.8 1004.2L1146.0 997.5L1151.0 996.5L1154.5 991.0L1157.4 985.0L1160.5 991.0L1164.0 996.0L1188.3 990.0L1217.2 980.4L1255.8 972.7L1294.4 965.0L1333.0 956.3L1342.7 951.4L1352.4 957.2L1363.5 954.0L1370.2 947.0L1375.0 938.0L1379.0 933.5L1384.0 933.5L1387.5 940.0L1391.6 963.7L1397.3 983.8L1403.7 1003.9L1407.0 1009.5L1410.5 1008.5L1414.0 1005.0L1417.0 960.0L1418.0 850.0L1420.5 530.0L1422.5 418.6L1425.3 418.6L1427.4 530.0L1430.0 850.0L1431.0 1040.0L1434.0 1054.0L1438.0 1060.5L1444.0 1063.5L1468.2 1061.5L1480.0 1060.4L1506.8 1051.8L1520.0 1050.0L1540.0 1047.0L1558.6 1046.0L1597.2 1036.4L1606.9 1034.4L1632.0 1038.3L1638.0 1036.0L1642.0 1030.0L1647.8 955.0L1650.8 955.0L1654.7 1030.0L1658.0 1042.0L1663.0 1044.0L1674.4 1038.3L1703.4 1030.6L1732.4 1022.9L1751.7 1016.1L1760.0 1016.0L1772.3 1011.3L1783.7 998.0L1792.0 988.5L1799.0 986.6L1804.5 991.0L1807.5 1007.5L1809.5 1030.0L1811.3 1055.0L1814.0 1076.0L1817.0 1093.0L1820.5 1105.0L1825.0 1110.0L1829.5 1107.0L1832.5 1095.0L1833.6 1064.0L1834.0 960.0L1838.8 600.0L1842.2 108.7L1845.8 108.7L1848.3 600.0L1850.0 1080.0L1850.5 1200.0L1852.5 1228.0L1858.0 1238.0L1869.0 1240.7L1883.4 1239.3L1897.9 1237.1L1912.4 1243.6L1925.1 1248.0L1932.7 1242.2L1935.5 1230.0L1938.3 1185.8L1942.9 1185.8L1945.5 1245.0L1947.5 1253.7L1955.8 1255.2L1984.8 1255.9L2003.6 1250.5L2017.3 1256.4L2034.0 1264.5L2040.0 1264.0L2043.5 1240.0L2047.7 1161.5L2050.7 1161.5L2053.5 1250.0L2055.0 1272.0L2060.0 1276.0L2064.0 1270.0L2068.0 1265.0L2074.3 1268.1L2081.0 1275.0L2100.6 1278.0L2117.9 1276.0L2140.0 1277.0L2146.0 1275.0L2149.0 1266.0L2153.0 1265.0L2158.0 1266.0L2162.0 1276.5L2165.9 1276.7L2194.9 1276.0L2238.3 1273.8L2267.3 1275.2L2271.0 1272.0L2275.0 1266.0L2281.0 1263.0L2288.0 1265.0L2295.0 1267.5L2304.0 1272.0L2315.0 1282.0L2322.0 1291.0L2328.0 1297.7L2344.8 1297.7"/><path transform="translate(0,-1.30)" d="M32.5 944.0L40.0 947.0L46.0 951.5L50.0 950.0L58.0 950.0L64.0 956.0L68.0 964.0L71.0 970.0L76.0 975.0L81.0 978.0L100.4 983.0L125.5 989.8L154.4 987.8L183.8 980.5L198.3 973.5L212.7 968.3L222.0 965.5L229.0 962.5L234.5 958.0L238.5 948.0L243.0 940.5L248.0 939.0L254.0 942.0L257.5 952.0L260.4 967.5L265.6 996.0L269.9 1024.5L274.6 1043.5L278.0 1055.0L283.0 1064.0L290.0 1068.0L306.0 1066.2L330.0 1062.5L357.0 1058.3L380.0 1056.0L399.0 1054.0L418.6 1048.6L437.9 1044.8L446.0 1044.0L451.4 1040.5L457.0 1045.0L472.7 1047.0L495.8 1042.0L515.0 1038.0L534.4 1031.3L553.7 1026.4L573.0 1023.6L588.5 1014.9L607.8 1011.0L616.5 1013.9L623.2 998.5L631.0 989.8L639.7 991.7L646.4 1008.0L652.2 1021.6L658.0 1015.0L661.0 989.0L666.0 968.0L671.0 963.5L676.0 967.0L679.0 985.0L680.6 1004.7L684.6 1028.2L687.3 1051.6L690.0 1065.0L694.7 1075.0L702.0 1079.0L710.4 1079.0L727.5 1076.0L756.4 1071.0L780.0 1069.0L798.6 1066.0L856.5 1056.4L914.4 1044.8L972.4 1033.2L1030.3 1023.6L1088.2 1010.0L1126.8 1004.2L1146.0 997.5L1151.0 996.5L1154.5 991.0L1157.4 985.0L1160.5 991.0L1164.0 996.0L1188.3 990.0L1217.2 980.4L1255.8 972.7L1294.4 965.0L1333.0 956.3L1342.7 951.4L1352.4 957.2L1363.5 954.0L1370.2 947.0L1375.0 938.0L1379.0 933.5L1384.0 933.5L1387.5 940.0L1391.6 963.7L1397.3 983.8L1403.7 1003.9L1407.0 1009.5L1410.5 1008.5L1414.0 1005.0L1417.0 960.0L1418.0 850.0L1420.5 530.0L1422.5 418.6L1425.3 418.6L1427.4 530.0L1430.0 850.0L1431.0 1040.0L1434.0 1054.0L1438.0 1060.5L1444.0 1063.5L1468.2 1061.5L1480.0 1060.4L1506.8 1051.8L1520.0 1050.0L1540.0 1047.0L1558.6 1046.0L1597.2 1036.4L1606.9 1034.4L1632.0 1038.3L1638.0 1036.0L1642.0 1030.0L1647.8 955.0L1650.8 955.0L1654.7 1030.0L1658.0 1042.0L1663.0 1044.0L1674.4 1038.3L1703.4 1030.6L1732.4 1022.9L1751.7 1016.1L1760.0 1016.0L1772.3 1011.3L1783.7 998.0L1792.0 988.5L1799.0 986.6L1804.5 991.0L1807.5 1007.5L1809.5 1030.0L1811.3 1055.0L1814.0 1076.0L1817.0 1093.0L1820.5 1105.0L1825.0 1110.0L1829.5 1107.0L1832.5 1095.0L1833.6 1064.0L1834.0 960.0L1838.8 600.0L1842.2 108.7L1845.8 108.7L1848.3 600.0L1850.0 1080.0L1850.5 1200.0L1852.5 1228.0L1858.0 1238.0L1869.0 1240.7L1883.4 1239.3L1897.9 1237.1L1912.4 1243.6L1925.1 1248.0L1932.7 1242.2L1935.5 1230.0L1938.3 1185.8L1942.9 1185.8L1945.5 1245.0L1947.5 1253.7L1955.8 1255.2L1984.8 1255.9L2003.6 1250.5L2017.3 1256.4L2034.0 1264.5L2040.0 1264.0L2043.5 1240.0L2047.7 1161.5L2050.7 1161.5L2053.5 1250.0L2055.0 1272.0L2060.0 1276.0L2064.0 1270.0L2068.0 1265.0L2074.3 1268.1L2081.0 1275.0L2100.6 1278.0L2117.9 1276.0L2140.0 1277.0L2146.0 1275.0L2149.0 1266.0L2153.0 1265.0L2158.0 1266.0L2162.0 1276.5L2165.9 1276.7L2194.9 1276.0L2238.3 1273.8L2267.3 1275.2L2271.0 1272.0L2275.0 1266.0L2281.0 1263.0L2288.0 1265.0L2295.0 1267.5L2304.0 1272.0L2315.0 1282.0L2322.0 1291.0L2328.0 1297.7L2344.8 1297.7"/></g>
<path stroke="none" fill="#00f" d="M1642.0 1030.0L1647.8 955.0L1650.8 955.0L1654.7 1030.0Z"/>
<path stroke="none" fill="#00f" d="M1414.0 1005.0L1417.0 960.0L1418.0 850.0L1420.5 530.0L1422.5 418.6L1425.3 418.6L1427.4 530.0L1430.0 850.0L1430.7 1000.0Z"/>
<path stroke="none" fill="#00f" d="M1829.5 1107.0L1832.5 1095.0L1833.6 1064.0L1834.0 960.0L1838.8 600.0L1842.2 108.7L1845.8 108.7L1848.3 600.0L1850.0 1080.0L1850.5 1107.0Z"/>
<path stroke="none" fill="#00f" d="M1840.3 1105.0L1841.3 1212.0L1850.0 1212.0L1850.0 1105.0Z"/>
<rect stroke="none" fill="#00f" x="1416.25" y="411.35" width="15.30" height="10.55"/>
<rect stroke="none" fill="#00f" x="1836.00" y="101.45" width="16.00" height="10.55"/>
<rect stroke="none" fill="#00f" x="1641.60" y="947.75" width="15.50" height="10.55"/>
<rect stroke="none" fill="#00f" x="1932.05" y="1178.55" width="17.10" height="10.55"/>
<rect stroke="none" fill="#00f" x="2041.45" y="1154.25" width="15.50" height="10.55"/>
</g>
<g stroke="#000" stroke-width="7.5" stroke-linecap="butt">
<line x1="1982.5" y1="1073.7" x2="1942.7" y2="1168.4"/>
<line x1="2007.3" y1="1073.7" x2="2042.4" y2="1144.1"/>
<line x1="2102.8" y1="1183.5" x2="2073.5" y2="1250.5"/>
<line x1="2124.6" y1="1185.2" x2="2153.9" y2="1254.7"/>
</g>
<g class="sans" fill="#000">
<text x="1827.5" y="79.3" font-size="57" textLength="34.0" lengthAdjust="spacingAndGlyphs">C</text>
<text x="1402.5" y="390.5" font-size="57" textLength="43.5" lengthAdjust="spacingAndGlyphs">O</text>
<text x="1625.0" y="926.3" font-size="57" textLength="44.0" lengthAdjust="spacingAndGlyphs">N</text>
<text x="1145.0" y="957.8" font-size="57" textLength="27.5" lengthAdjust="spacingAndGlyphs">F</text>
<text x="1984.0" y="1064.8" font-size="57" textLength="31.0" lengthAdjust="spacingAndGlyphs">S</text>
<text x="2089.5" y="1164.8" font-size="57" textLength="49.5" lengthAdjust="spacingAndGlyphs">Si</text>
<text x="49.5" y="912.1" font-size="66" textLength="277.0" lengthAdjust="spacingAndGlyphs">rGO-SH-2</text>
<text x="49.0" y="1157.9" font-size="66" textLength="277.0" lengthAdjust="spacingAndGlyphs">rGO-SH-1</text>
<text x="49.5" y="1441.5" font-size="66" textLength="93.0" lengthAdjust="spacingAndGlyphs">GO</text>
</g>
<rect x="35" y="1791" width="2308" height="18" fill="#000"/>
<rect x="2317.5" y="1779.3" width="13.6" height="39" fill="#000"/>
<rect x="2148.1" y="1779.3" width="13.6" height="39" fill="#000"/>
<rect x="1978.6" y="1779.3" width="13.6" height="39" fill="#000"/>
<rect x="1809.2" y="1779.3" width="13.6" height="39" fill="#000"/>
<rect x="1639.7" y="1779.3" width="13.6" height="39" fill="#000"/>
<rect x="1470.3" y="1779.3" width="13.6" height="39" fill="#000"/>
<rect x="1300.8" y="1779.3" width="13.6" height="39" fill="#000"/>
<rect x="1131.4" y="1779.3" width="13.6" height="39" fill="#000"/>
<rect x="961.9" y="1779.3" width="13.6" height="39" fill="#000"/>
<rect x="792.5" y="1779.3" width="13.6" height="39" fill="#000"/>
<rect x="623.0" y="1779.3" width="13.6" height="39" fill="#000"/>
<rect x="453.6" y="1779.3" width="13.6" height="39" fill="#000"/>
<rect x="284.1" y="1779.3" width="13.6" height="39" fill="#000"/>
<rect x="114.7" y="1779.3" width="13.6" height="39" fill="#000"/>
<g class="sans" font-size="90" fill="#000" text-anchor="middle">
<text x="2324.3" y="1894.3">0</text>
<text x="1985.4" y="1894.3">200</text>
<text x="1646.5" y="1894.3">400</text>
<text x="1307.6" y="1894.3">600</text>
<text x="968.7" y="1894.3">800</text>
<text x="629.8" y="1894.3">1000</text>
<text x="290.9" y="1894.3">1200</text>
</g>
<text class="sans" x="781" y="2023" font-size="90" textLength="858" lengthAdjust="spacingAndGlyphs">Binding Energy (eV)</text>
</svg></body></html>
